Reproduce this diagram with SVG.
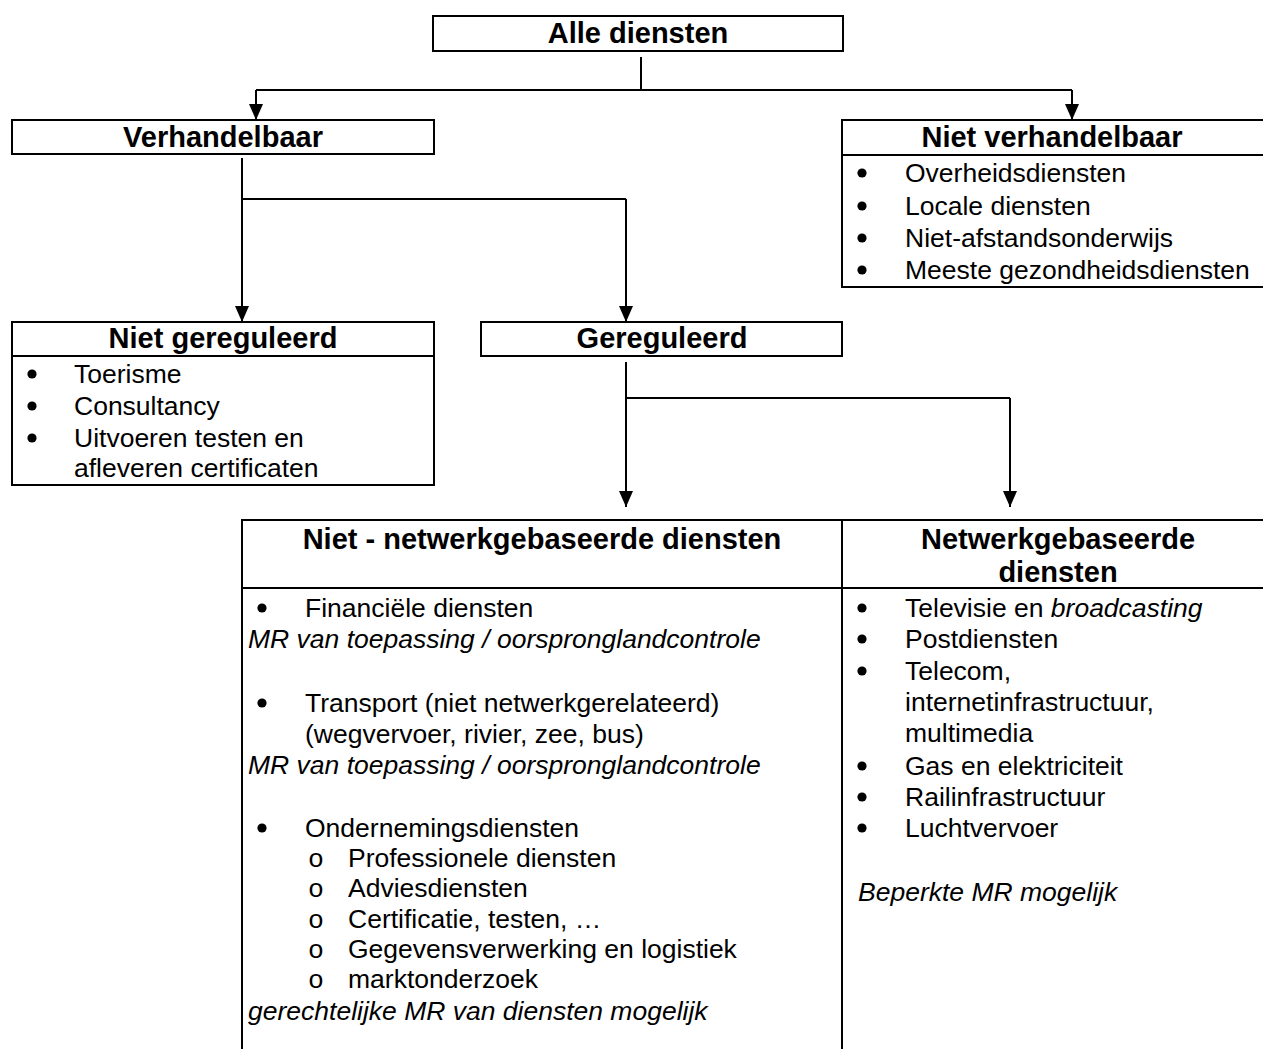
<svg xmlns="http://www.w3.org/2000/svg" width="1263" height="1049" viewBox="0 0 1263 1049">
<style>
.box{fill:#fff;stroke:#000;stroke-width:2}
.ln{fill:none;stroke:#000;stroke-width:2}
.h{font-family:"Liberation Sans",Arial,sans-serif;font-weight:bold;font-size:29px;text-anchor:middle;fill:#000}
.t{font-family:"Liberation Sans",Arial,sans-serif;font-size:26.5px;fill:#000}
.i{font-style:italic}
.o{font-family:"Liberation Mono","Courier New",monospace;font-size:26.5px;fill:#000}
.b{fill:#000}
</style>
<defs>
<marker id="arr" markerUnits="userSpaceOnUse" viewBox="0 0 16 14" refX="16" refY="7" markerWidth="16" markerHeight="14" orient="auto">
<path d="M0,0 L16,7 L0,14 z" fill="#000"/>
</marker>
</defs>
<g id="connectors">
<path class="ln" d="M641,57 V90"/>
<path class="ln" d="M256,90 H1072"/>
<path class="ln" d="M256,90 V120" marker-end="url(#arr)"/>
<path class="ln" d="M1072,90 V120" marker-end="url(#arr)"/>
<path class="ln" d="M242,158 V199 H626"/>
<path class="ln" d="M242,199 V322" marker-end="url(#arr)"/>
<path class="ln" d="M626,199 V322" marker-end="url(#arr)"/>
<path class="ln" d="M626,362 V398 H1010"/>
<path class="ln" d="M626,398 V507" marker-end="url(#arr)"/>
<path class="ln" d="M1010,398 V507" marker-end="url(#arr)"/>
</g>
<g id="alle-diensten">
<rect class="box" x="433" y="16" width="410" height="35"/>
<text class="h" x="638" y="43">Alle diensten</text>
</g>
<g id="verhandelbaar">
<rect class="box" x="12" y="120" width="422" height="34"/>
<text class="h" x="223" y="147">Verhandelbaar</text>
</g>
<g id="niet-verhandelbaar">
<rect class="box" x="842" y="120" width="440" height="167"/>
<path class="ln" d="M842,155 H1263"/>
<text class="h" x="1052" y="147">Niet verhandelbaar</text>
<circle class="b" cx="862" cy="173" r="4.6"/><text class="t" x="905" y="182">Overheidsdiensten</text>
<circle class="b" cx="862" cy="206" r="4.6"/><text class="t" x="905" y="215">Locale diensten</text>
<circle class="b" cx="862" cy="238" r="4.6"/><text class="t" x="905" y="247">Niet-afstandsonderwijs</text>
<circle class="b" cx="862" cy="270" r="4.6"/><text class="t" x="905" y="279">Meeste gezondheidsdiensten</text>
</g>
<g id="niet-gereguleerd">
<rect class="box" x="12" y="322" width="422" height="163"/>
<path class="ln" d="M12,356 H434"/>
<text class="h" x="223" y="348">Niet gereguleerd</text>
<circle class="b" cx="32" cy="374" r="4.6"/><text class="t" x="74" y="383">Toerisme</text>
<circle class="b" cx="32" cy="406" r="4.6"/><text class="t" x="74" y="415">Consultancy</text>
<circle class="b" cx="32" cy="438" r="4.6"/><text class="t" x="74" y="447">Uitvoeren testen en</text>
<text class="t" x="74" y="477">afleveren certificaten</text>
</g>
<g id="gereguleerd">
<rect class="box" x="481" y="322" width="361" height="34"/>
<text class="h" x="662" y="348">Gereguleerd</text>
</g>
<g id="tabel">
<path class="ln" d="M242,1049 V520 H1263 M242,588 H1263 M842,520 V1049"/>
</g>
<g id="niet-netwerkgebaseerd">
<text class="h" x="542" y="549">Niet - netwerkgebaseerde diensten</text>
<circle class="b" cx="262" cy="608" r="4.6"/><text class="t" x="305" y="617">Financiële diensten</text>
<text class="t i" x="248" y="648">MR van toepassing / oorspronglandcontrole</text>
<circle class="b" cx="262" cy="703" r="4.6"/><text class="t" x="305" y="712">Transport (niet netwerkgerelateerd)</text>
<text class="t" x="305" y="743">(wegvervoer, rivier, zee, bus)</text>
<text class="t i" x="248" y="774">MR van toepassing / oorspronglandcontrole</text>
<circle class="b" cx="262" cy="828" r="4.6"/><text class="t" x="305" y="837">Ondernemingsdiensten</text>
<text class="o" x="308" y="867">o</text><text class="t" x="348" y="867">Professionele diensten</text>
<text class="o" x="308" y="897">o</text><text class="t" x="348" y="897">Adviesdiensten</text>
<text class="o" x="308" y="928">o</text><text class="t" x="348" y="928">Certificatie, testen, …</text>
<text class="o" x="308" y="958">o</text><text class="t" x="348" y="958">Gegevensverwerking en logistiek</text>
<text class="o" x="308" y="988">o</text><text class="t" x="348" y="988">marktonderzoek</text>
<text class="t i" x="248" y="1020">gerechtelijke MR van diensten mogelijk</text>
</g>
<g id="netwerkgebaseerd">
<text class="h" x="1058" y="549">Netwerkgebaseerde</text>
<text class="h" x="1058" y="582">diensten</text>
<circle class="b" cx="862" cy="608" r="4.6"/><text class="t" x="905" y="617">Televisie en <tspan class="i">broadcasting</tspan></text>
<circle class="b" cx="862" cy="639" r="4.6"/><text class="t" x="905" y="648">Postdiensten</text>
<circle class="b" cx="862" cy="671" r="4.6"/><text class="t" x="905" y="680">Telecom,</text>
<text class="t" x="905" y="711">internetinfrastructuur,</text>
<text class="t" x="905" y="742">multimedia</text>
<circle class="b" cx="862" cy="766" r="4.6"/><text class="t" x="905" y="775">Gas en elektriciteit</text>
<circle class="b" cx="862" cy="797" r="4.6"/><text class="t" x="905" y="806">Railinfrastructuur</text>
<circle class="b" cx="862" cy="828" r="4.6"/><text class="t" x="905" y="837">Luchtvervoer</text>
<text class="t i" x="858" y="901">Beperkte MR mogelijk</text>
</g>
</svg>
